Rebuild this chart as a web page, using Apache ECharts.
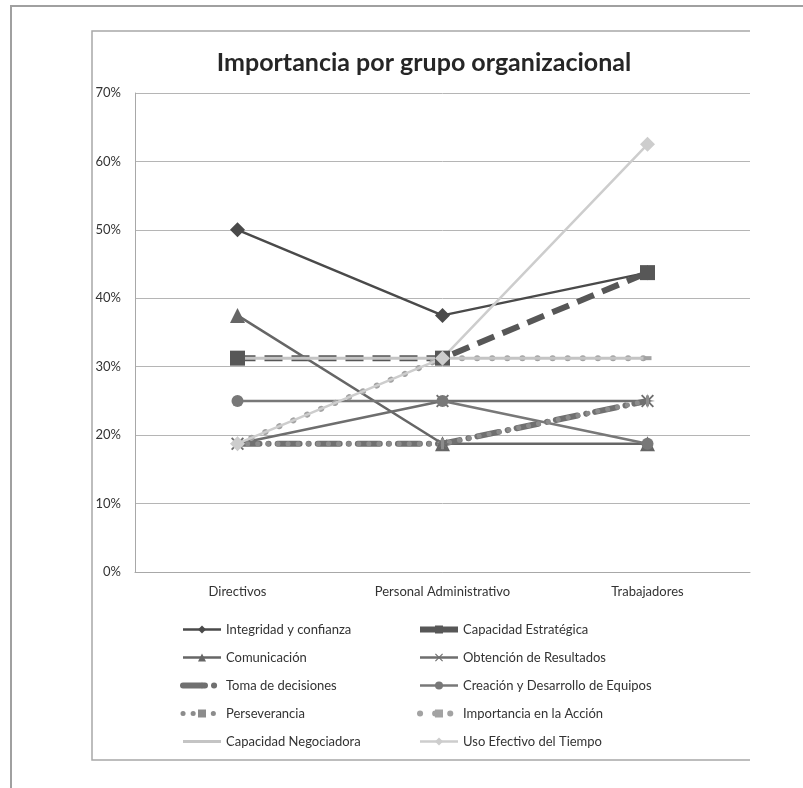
<!DOCTYPE html>
<html>
<head>
<meta charset="utf-8">
<script src="https://cdn.jsdelivr.net/npm/echarts@6/dist/echarts.min.js"></script>
<style>
html, body { margin: 0; padding: 0; background: #fff; }
#chart { width: 803px; height: 788px; }
</style>
</head>
<body>
<div id="chart"></div>
<script>
// datos
var categorias = ['Directivos', 'Personal Administrativo', 'Trabajadores'];
var integridad = [50, 37.5, 43.75];
var capEstrategica = [31.25, 31.25, 43.75];
var comunicacion = [37.5, 18.75, 18.75];
var obtencion = [18.75, 25, 25];
var tomaDecisiones = [18.75, 18.75, 25];
var creacion = [25, 25, 18.75];
var perseverancia = [18.75, 18.75, 25];
var importanciaAccion = [18.75, 31.25, 31.25];
var capNegociadora = [31.25, 31.25, 31.25];
var usoTiempo = [18.75, 31.25, 62.5];
var yTicks = [0, 10, 20, 30, 40, 50, 60, 70];

var FONT = 'Lato';
var xSymbol = 'path://M0,1L1,0L5,4L9,0L10,1L6,5L10,9L9,10L5,6L1,10L0,9L4,5Z';
var starSymbol = 'path://M20,10L12.77,11.15L17.07,17.07L11.15,12.77L10,20L8.85,12.77L2.93,17.07L7.23,11.15L0,10L7.23,8.85L2.93,2.93L8.85,7.23L10,0L11.15,7.23L17.07,2.93L12.77,8.85Z';
var barSymbol = 'path://M0,0L2,0L2,10L0,10Z';
var lineIcon = 'path://M0,0L38,0L38,3L0,3Z';

function serie(name, data, color, width, type, symbol, size, cap) {
	return {
		name : name,
		type : 'line',
		data : data,
		symbol : symbol,
		symbolSize : size,
		showSymbol : symbol !== 'none',
		animation : false,
		lineStyle : {
			color : color,
			width : width,
			type : type,
			cap : cap || 'butt'
		},
		itemStyle : {
			color : color
		}
	};
}

var legendBase = {
	orient : 'vertical',
	top : 623,
	padding : 0,
	itemWidth : 38,
	itemHeight : 10,
	itemGap : 15,
	lineStyle : { width : 'inherit' },
	textStyle : { fontFamily : FONT, fontSize : 13, color : '#333' }
};

var chart = echarts.init(document.getElementById('chart'));
chart.setOption({
	animation : false,
	textStyle : {
		fontFamily : FONT
	},
	title : {
		text : 'Importancia por grupo organizacional',
		left : 419,
		textAlign : 'center',
		top : 45,
		textStyle : {
			fontFamily : FONT,
			fontSize : 25,
			fontWeight : 'bold',
			color : '#262626'
		}
	},
	graphic : [ {
		type : 'rect',
		shape : { x : 11, y : 6, width : 820, height : 820 },
		style : { fill : 'none', stroke : '#a0a0a0', lineWidth : 2 }
	}, {
		type : 'polyline',
		shape : { points : [ [ 750, 31 ], [ 92, 31 ], [ 92, 760 ], [ 750, 760 ] ] },
		style : { fill : 'none', stroke : '#a8a8a8', lineWidth : 1.5 }
	} ],
	legend : [ echarts.util.merge({
		left : 180,
		data : [ 'Integridad y confianza', 'Comunicación', 'Toma de decisiones', 'Perseverancia', {
			name : 'Capacidad Negociadora',
			icon : lineIcon,
			itemHeight : 3
		} ]
	}, legendBase), echarts.util.merge({
		left : 417,
		data : [ {
			name : 'Capacidad Estratégica',
			lineStyle : { type : 'solid' }
		}, 'Obtención de Resultados', 'Creación y Desarrollo de Equipos', 'Importancia en la Acción', 'Uso Efectivo del Tiempo' ]
	}, legendBase) ],
	grid : {
		left : 135,
		right : 53,
		top : 93,
		bottom : 216
	},
	xAxis : {
		type : 'category',
		data : categorias,
		axisLine : { lineStyle : { color : '#a8a8a8' } },
		axisTick : { show : false },
		axisLabel : { fontFamily : FONT, fontSize : 13, color : '#333', margin : 13 }
	},
	yAxis : {
		type : 'value',
		min : yTicks[0],
		max : yTicks[yTicks.length - 1],
		interval : 10,
		axisLine : { show : true, lineStyle : { color : '#a8a8a8' } },
		axisTick : { show : false },
		splitLine : { lineStyle : { color : '#b5b5b5', width : 1 } },
		axisLabel : { fontFamily : FONT, fontSize : 13, color : '#333', margin : 14, formatter : '{value}%' }
	},
	series : [
		serie('Integridad y confianza', integridad, '#4a4a4a', 2.5, 'solid', 'diamond', 15),
		serie('Capacidad Estratégica', capEstrategica, '#575757', 6, [ 18, 9 ], 'rect', 15),
		serie('Comunicación', comunicacion, '#666666', 2.5, 'solid', 'triangle', 15),
		serie('Obtención de Resultados', obtencion, '#6e6e6e', 2.5, 'solid', xSymbol, 13),
		serie('Toma de decisiones', tomaDecisiones, '#707070', 6, [ 22, 9, 0.1, 9 ], starSymbol, 15, 'round'),
		serie('Creación y Desarrollo de Equipos', creacion, '#787878', 2.5, 'solid', 'circle', 12),
		serie('Perseverancia', perseverancia, '#8c8c8c', 5, [ 0.1, 10 ], barSymbol, [ 3, 11 ], 'round'),
		serie('Importancia en la Acción', importanciaAccion, '#a3a3a3', 6, [ 0.1, 15 ], 'rect', [ 8, 4 ], 'round'),
		serie('Capacidad Negociadora', capNegociadora, '#c4c4c4', 3, 'solid', 'none', 0),
		serie('Uso Efectivo del Tiempo', usoTiempo, '#cdcdcd', 2.5, 'solid', 'diamond', 15)
	]
});
</script>
</body>
</html>
